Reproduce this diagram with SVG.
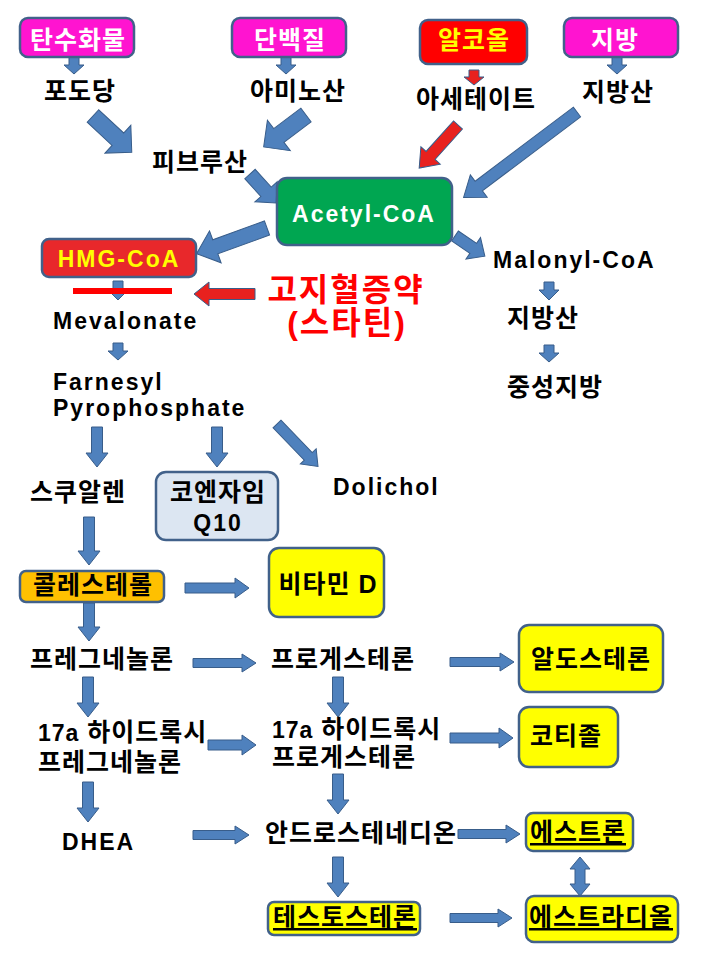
<svg xmlns="http://www.w3.org/2000/svg" width="720" height="960" viewBox="0 0 720 960">
<style>
.t{font-family:"Liberation Sans","Noto Sans CJK KR",sans-serif;font-weight:bold;font-size:25px;letter-spacing:1px;fill:#000}
.l{font-family:"Liberation Sans","Noto Sans CJK KR",sans-serif;font-weight:bold;font-size:23px;letter-spacing:2px;fill:#000}
.m{text-anchor:middle}
.box{stroke:#41618A;stroke-width:2.5}
.arr{fill:#4F81BD;stroke:#385D8A;stroke-width:1}
.rarr{fill:#E8211E;stroke:#385D8A;stroke-width:1}
.u{text-decoration:underline}
.big{font-size:32px;letter-spacing:2px;fill:#FF0000}
</style>
<rect width="720" height="960" fill="#fff"/>
<g id="connectors">
<polygon class="arr" transform="translate(74,57) rotate(90)" points="0,-5 8,-5 8,-10 17,0 8,10 8,5 0,5"/>
<polygon class="arr" transform="translate(286,57) rotate(90)" points="0,-5 8,-5 8,-10 17,0 8,10 8,5 0,5"/>
<polygon class="rarr" transform="translate(474,70) rotate(90)" points="0,-5 7,-5 7,-10 15,0 7,10 7,5 0,5"/>
<polygon class="arr" transform="translate(617,57) rotate(90)" points="0,-5 8,-5 8,-10 17,0 8,10 8,5 0,5"/>
<polygon class="arr" transform="translate(93,116) rotate(43)" points="0,-8.5 34,-8.5 34,-19 53,0 34,19 34,8.5 0,8.5"/>
<polygon class="arr" transform="translate(306,115) rotate(143)" points="0,-8.5 34,-8.5 34,-19 53,0 34,19 34,8.5 0,8.5"/>
<polygon class="arr" transform="translate(250,174) rotate(48)" points="0,-7 24,-7 24,-15 39,0 24,15 24,7 0,7"/>
<polygon class="rarr" transform="translate(458,125) rotate(132)" points="0,-6 41,-6 41,-13 58,0 41,13 41,6 0,6"/>
<polygon class="arr" transform="translate(577,112) rotate(143)" points="0,-6 123,-6 123,-14 142,0 123,14 123,6 0,6"/>
<polygon class="arr" transform="translate(267,228) rotate(160)" points="0,-7.5 55,-7.5 55,-17 75,0 55,17 55,7.5 0,7.5"/>
<polygon class="arr" transform="translate(455,236) rotate(34)" points="0,-6 22,-6 22,-13 36,0 22,13 22,6 0,6"/>
<polygon class="arr" transform="translate(118,281) rotate(90)" points="0,-5 9,-5 9,-10 19,0 9,10 9,5 0,5"/>
<rect x="73" y="288" width="99" height="6" fill="#FF0000"/>
<polygon class="rarr" transform="translate(255,294) rotate(180)" points="0,-5.5 46,-5.5 46,-12 61,0 46,12 46,5.5 0,5.5"/>
<polygon class="arr" transform="translate(118,343) rotate(90)" points="0,-5 8,-5 8,-10 17,0 8,10 8,5 0,5"/>
<polygon class="arr" transform="translate(549,282) rotate(90)" points="0,-5 8,-5 8,-10 18,0 8,10 8,5 0,5"/>
<polygon class="arr" transform="translate(549,345) rotate(90)" points="0,-5 8,-5 8,-10 17,0 8,10 8,5 0,5"/>
<polygon class="arr" transform="translate(97,427) rotate(90)" points="0,-5.5 26,-5.5 26,-11 40,0 26,11 26,5.5 0,5.5"/>
<polygon class="arr" transform="translate(217,427) rotate(90)" points="0,-5.5 26,-5.5 26,-11 40,0 26,11 26,5.5 0,5.5"/>
<polygon class="arr" transform="translate(277,424) rotate(46)" points="0,-5.5 45,-5.5 45,-11 59,0 45,11 45,5.5 0,5.5"/>
<polygon class="arr" transform="translate(89,517) rotate(90)" points="0,-5.5 34,-5.5 34,-11 48,0 34,11 34,5.5 0,5.5"/>
<polygon class="arr" transform="translate(185,588)" points="0,-5 50,-5 50,-10 64,0 50,10 50,5 0,5"/>
<polygon class="arr" transform="translate(89,603) rotate(90)" points="0,-5.5 24,-5.5 24,-11 38,0 24,11 24,5.5 0,5.5"/>
<polygon class="arr" transform="translate(193,663)" points="0,-4.5 49,-4.5 49,-9 63,0 49,9 49,4.5 0,4.5"/>
<polygon class="arr" transform="translate(450,662)" points="0,-4.5 50,-4.5 50,-9 64,0 50,9 50,4.5 0,4.5"/>
<polygon class="arr" transform="translate(88,677) rotate(90)" points="0,-5.5 26,-5.5 26,-11 40,0 26,11 26,5.5 0,5.5"/>
<polygon class="arr" transform="translate(338,677) rotate(90)" points="0,-5.5 26,-5.5 26,-11 40,0 26,11 26,5.5 0,5.5"/>
<polygon class="arr" transform="translate(208,745)" points="0,-5 34,-5 34,-10 48,0 34,10 34,5 0,5"/>
<polygon class="arr" transform="translate(450,738)" points="0,-5 49,-5 49,-10 63,0 49,10 49,5 0,5"/>
<polygon class="arr" transform="translate(88,782) rotate(90)" points="0,-5.5 26,-5.5 26,-11 40,0 26,11 26,5.5 0,5.5"/>
<polygon class="arr" transform="translate(193,835)" points="0,-4.5 42,-4.5 42,-9 56,0 42,9 42,4.5 0,4.5"/>
<polygon class="arr" transform="translate(338,774) rotate(90)" points="0,-5.5 26,-5.5 26,-11 40,0 26,11 26,5.5 0,5.5"/>
<polygon class="arr" transform="translate(458,834)" points="0,-4.5 48,-4.5 48,-9 62,0 48,9 48,4.5 0,4.5"/>
<polygon class="arr" transform="translate(338,857) rotate(90)" points="0,-5.5 26,-5.5 26,-11 40,0 26,11 26,5.5 0,5.5"/>
<polygon class="arr" transform="translate(450,918)" points="0,-4.5 48,-4.5 48,-9 62,0 48,9 48,4.5 0,4.5"/>
<polygon class="arr" transform="translate(580,857) rotate(90)" points="0,0 12,-10 12,-5 27,-5 27,-10 39,0 27,10 27,5 12,5 12,10"/>
</g>
<g id="carb"><rect class="box" x="20" y="18" width="114" height="39" rx="8" fill="#FF14D0"/><text class="t m" x="78" y="49" style="fill:#fff">탄수화물</text></g>
<g id="protein"><rect class="box" x="232" y="18" width="114" height="39" rx="8" fill="#FF14D0"/><text class="t m" x="290" y="49" style="fill:#fff">단백질</text></g>
<g id="alcohol"><rect class="box" x="420" y="20" width="107" height="44" rx="8" fill="#FF0000"/><text class="t m" x="474" y="49" style="fill:#FFFF00">알코올</text></g>
<g id="fat"><rect class="box" x="564" y="18" width="114" height="39" rx="8" fill="#FF14D0"/><text class="t m" x="615" y="49" style="fill:#fff">지방</text></g>
<g id="glucose"><text class="t m" x="80" y="100">포도당</text></g>
<g id="amino"><text class="t m" x="298" y="100">아미노산</text></g>
<g id="acetate"><text class="t m" x="476" y="108">아세테이트</text></g>
<g id="fattyacid1"><text class="t m" x="618" y="101">지방산</text></g>
<g id="pyruvate"><text class="t m" x="200" y="171">피브루산</text></g>
<g id="acetylcoa"><rect class="box" x="277" y="178" width="175" height="67" rx="10" fill="#00A651"/><text class="l m" x="364" y="222" style="fill:#fff">Acetyl-CoA</text></g>
<g id="hmgcoa"><rect class="box" x="42" y="239" width="154" height="38" rx="7" fill="#E8282B"/><text class="l m" x="119" y="267" style="fill:#FFFF00">HMG-CoA</text></g>
<g id="statin"><text class="t m big" x="346" y="301">고지혈증약</text><text class="t m big" x="347" y="334">(스타틴)</text></g>
<g id="mevalonate"><text class="l" x="53" y="329">Mevalonate</text></g>
<g id="farnesyl"><text class="l" x="53" y="390">Farnesyl</text><text class="l" x="53" y="416">Pyrophosphate</text></g>
<g id="malonyl"><text class="l" x="493" y="268">Malonyl-CoA</text></g>
<g id="fattyacid2"><text class="t m" x="543" y="327">지방산</text></g>
<g id="tg"><text class="t m" x="555" y="396">중성지방</text></g>
<g id="squalene"><text class="t m" x="78" y="501">스쿠알렌</text></g>
<g id="coq10"><rect class="box" x="156" y="472" width="122" height="68" rx="10" fill="#DCE6F2"/><text class="t m" x="218" y="501">코엔자임</text><text class="l m" x="218" y="531">Q10</text></g>
<g id="dolichol"><text class="l" x="333" y="495">Dolichol</text></g>
<g id="cholesterol"><rect class="box" x="20" y="571" width="144" height="31" rx="6" fill="#FFC000"/><text class="t m" x="93" y="594">콜레스테롤</text></g>
<g id="vitd"><rect class="box" x="269" y="548" width="115" height="69" rx="10" fill="#FFFF00"/><text class="t m" x="328" y="593">비타민 D</text></g>
<g id="pregnenolone"><text class="t" x="30" y="668">프레그네놀론</text></g>
<g id="progesterone"><text class="t" x="271" y="668">프로게스테론</text></g>
<g id="aldosterone"><rect class="box" x="519" y="625" width="144" height="67" rx="10" fill="#FFFF00"/><text class="t m" x="591" y="668">알도스테론</text></g>
<g id="ohpreg"><text class="t" x="38" y="741"><tspan style="font-size:23px;letter-spacing:1px">17a</tspan> 하이드록시</text><text class="t" x="38" y="771">프레그네놀론</text></g>
<g id="ohprog"><text class="t" x="272" y="738"><tspan style="font-size:23px;letter-spacing:1px">17a</tspan> 하이드록시</text><text class="t" x="272" y="766">프로게스테론</text></g>
<g id="cortisol"><rect class="box" x="519" y="707" width="99" height="60" rx="10" fill="#FFFF00"/><text class="t m" x="566" y="745">코티졸</text></g>
<g id="dhea"><text class="l" x="62" y="850">DHEA</text></g>
<g id="androstenedione"><text class="t" x="265" y="842">안드로스테네디온</text></g>
<g id="estrone"><rect class="box" x="526" y="813" width="107" height="38" rx="7" fill="#FFFF00"/><text class="t m u" x="578" y="841">에스트론</text></g>
<g id="testosterone"><rect class="box" x="268" y="902" width="152" height="33" rx="6" fill="#FFFF00"/><text class="t m u" x="345" y="926">테스토스테론</text></g>
<g id="estradiol"><rect class="box" x="526" y="896" width="152" height="46" rx="8" fill="#FFFF00"/><text class="t m u" x="601" y="926">에스트라디올</text></g>
</svg>
